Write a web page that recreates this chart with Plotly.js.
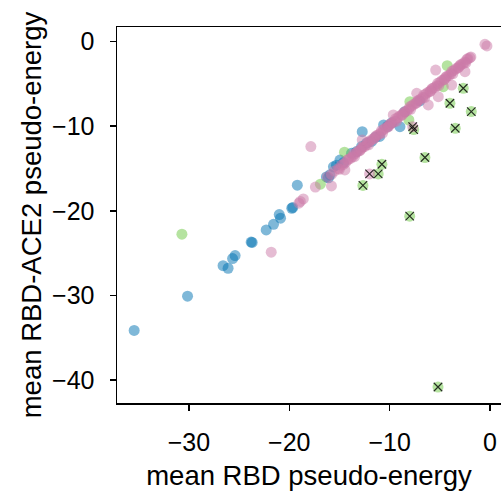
<!DOCTYPE html>
<html>
<head>
<meta charset="utf-8">
<script src="https://cdn.plot.ly/plotly-3.0.1.min.js"></script>
<style>html,body{margin:0;padding:0;background:#fff;}#chart{width:501px;height:496px;}</style>
</head>
<body>
<div id="chart"></div>
<script>
// Blue series
const blueX = [-35.46,-30.14,-26.6,-26.1,-25.65,-25.4,-23.8,-23.7,-22.3,-21.57,-21.0,-20.87,-19.75,-19.65,-19.2,-16.3,-16.1,-15.95,-15.6,-15.3,-14.95,-14.6,-13.8,-13.3,-12.8,-12.73,-12.3,-11.8,-11.4,-11.0,-10.6,-10.2,-9.8,-8.97,-8.5,-7.0];
const blueY = [-34.16,-30.1,-26.5,-26.8,-25.65,-25.3,-23.7,-23.75,-22.26,-21.6,-20.45,-20.88,-19.7,-19.6,-16.97,-16.0,-16.1,-15.75,-14.8,-14.6,-14.0,-14.3,-13.2,-13.0,-12.4,-10.64,-12.0,-11.8,-11.3,-11.2,-9.85,-10.0,-9.6,-10.05,-8.3,-7.0];
// Green series (unflagged)
const greenX = [-30.7,-16.9,-14.5,-7.98,-8.08,-4.65,-4.26];
const greenY = [-22.77,-16.86,-13.07,-7.09,-9.26,-5.32,-2.84];
// Green series (flagged with x)
const greenFlagX = [-12.66,-8.0,-5.18,-10.77,-11.14,-7.6,-6.48,-3.46,-3.99,-2.66,-1.86];
const greenFlagY = [-17.0,-20.64,-40.85,-14.5,-15.64,-10.4,-13.7,-10.24,-7.28,-5.51,-8.27];
// Pink series (scattered)
const pinkX = [-21.8,-19.04,-18.6,-17.4,-15.8,-17.85,-12.73,-14.46,-5.41,-0.5,-0.3,-7.3,-6.15,-5.15,-3.82,-2.49,-9.64,-18.9];
const pinkY = [-24.9,-19.1,-18.6,-17.2,-17.06,-12.4,-11.62,-15.17,-3.35,-0.31,-0.5,-6.1,-7.48,-6.5,-5.12,-3.55,-8.66,-18.9];
// Pink series (dense band along the diagonal)
const pinkBandX = [-16.2,-15.8,-15.5,-15.1,-14.8,-14.4,-14.1,-13.7,-13.4,-13.0,-12.7,-12.3,-12.0,-11.6,-11.3,-10.9,-10.6,-10.2,-9.9,-9.5,-9.2,-8.8,-8.5,-8.1,-7.8,-7.4,-7.1,-6.7,-6.4,-6.0,-5.7,-5.3,-5.0,-4.6,-4.3,-3.9,-3.6,-3.2,-2.9,-2.5,-2.2,-1.9,
  -15.0,-14.2,-13.5,-12.8,-12.1,-11.4,-10.7,-10.0,-9.3,-8.6,-7.9,-7.2,-6.5,-5.8,-5.1,-4.4,-3.7,-3.0,-2.4,
  -14.6,-13.9,-13.2,-12.5,-11.8,-11.1,-10.4,-9.7,-9.0,-8.3,-7.6,-6.9,-6.2,-5.5,-4.8,-4.1,-3.4,-2.7,-2.0,
  -13.6,-12.9,-12.2,-11.5,-10.8,-10.1,-9.4,-8.7,-8.0,-7.3,-6.6,-5.9,-5.2,-4.5,-3.8,-3.1,-2.3];
const pinkBandY = [-16.0,-15.7,-15.3,-15.0,-14.6,-14.3,-13.9,-13.6,-13.2,-12.9,-12.5,-12.2,-11.8,-11.5,-11.1,-10.8,-10.4,-10.1,-9.7,-9.4,-9.0,-8.7,-8.3,-8.0,-7.6,-7.3,-6.9,-6.6,-6.2,-5.9,-5.5,-5.2,-4.8,-4.5,-4.1,-3.8,-3.4,-3.1,-2.7,-2.4,-2.0,-1.8,
  -15.1,-14.0,-13.6,-12.6,-12.2,-11.2,-10.8,-9.8,-9.4,-8.4,-8.0,-7.0,-6.6,-5.6,-5.2,-4.2,-3.8,-2.8,-2.5,
  -14.5,-13.8,-13.0,-12.4,-11.6,-11.0,-10.2,-9.6,-8.8,-8.2,-7.4,-6.8,-6.0,-5.4,-4.6,-4.0,-3.2,-2.6,-1.9,
  -13.3,-12.8,-11.9,-11.4,-10.5,-10.0,-9.1,-8.6,-7.7,-7.2,-6.3,-5.8,-4.9,-4.4,-3.5,-3.0,-2.1];
// Pink series (flagged with x)
const pinkFlagX = [-12.0,-7.7];
const pinkFlagY = [-15.64,-10.05];

const xTicks = [-30,-20,-10,0];
const yTicks = [0,-10,-20,-30,-40];
const xTickText = ['\u221230','\u221220','\u221210','0'];
const yTickText = ['0','\u221210','\u221220','\u221230','\u221240'];

const BLUE = 'rgba(0,114,178,0.5)';
const GREEN = 'rgba(107,199,65,0.5)';
const PINK = 'rgba(204,121,167,0.5)';
const MS = 11;

function dots(x, y, color) {
  return {x: x, y: y, type: 'scatter', mode: 'markers', hoverinfo: 'skip', showlegend: false,
    marker: {size: MS, color: color, line: {width: 0}}};
}

const traces = [
  dots(blueX, blueY, BLUE),
  dots(greenX.concat(greenFlagX), greenY.concat(greenFlagY), GREEN),
  dots(pinkBandX.concat(pinkX, pinkFlagX), pinkBandY.concat(pinkY, pinkFlagY), PINK),
  {x: greenFlagX.concat(pinkFlagX), y: greenFlagY.concat(pinkFlagY), type: 'scatter', mode: 'markers',
   hoverinfo: 'skip', showlegend: false,
   marker: {symbol: 'x-thin', size: 8.5, color: 'rgba(0,0,0,0.8)', line: {width: 1.2, color: 'rgba(0,0,0,0.8)'}}}
];

const fontFam = 'Liberation Sans, Arial, sans-serif';
const layout = {
  width: 501, height: 496,
  margin: {l: 117, r: 0, t: 27, b: 93, pad: 0},
  paper_bgcolor: '#fff', plot_bgcolor: '#fff',
  font: {family: fontFam, color: '#000', size: 25},
  showlegend: false,
  xaxis: {
    range: [-37.17, 1.1], showgrid: false, zeroline: false,
    showline: true, linecolor: '#000', linewidth: 1.5, mirror: true,
    ticks: 'outside', ticklen: 6, tickwidth: 1.5, tickcolor: '#000', ticklabelstandoff: 10,
    tickvals: xTicks, ticktext: xTickText, tickfont: {size: 25},
    title: {text: 'mean RBD pseudo-energy', font: {size: 27.5}, standoff: 11}
  },
  yaxis: {
    range: [-42.74, 1.74], showgrid: false, zeroline: false,
    showline: true, linecolor: '#000', linewidth: 1.5, mirror: true,
    ticks: 'outside', ticklen: 6, tickwidth: 1.5, tickcolor: '#000', ticklabelstandoff: 10,
    tickvals: yTicks, ticktext: yTickText, tickfont: {size: 25},
    title: {text: 'mean RBD-ACE2 pseudo-energy', font: {size: 27.5}, standoff: 2}
  }
};

Plotly.newPlot('chart', traces, layout, {displayModeBar: false, staticPlot: true});
</script>
</body>
</html>
